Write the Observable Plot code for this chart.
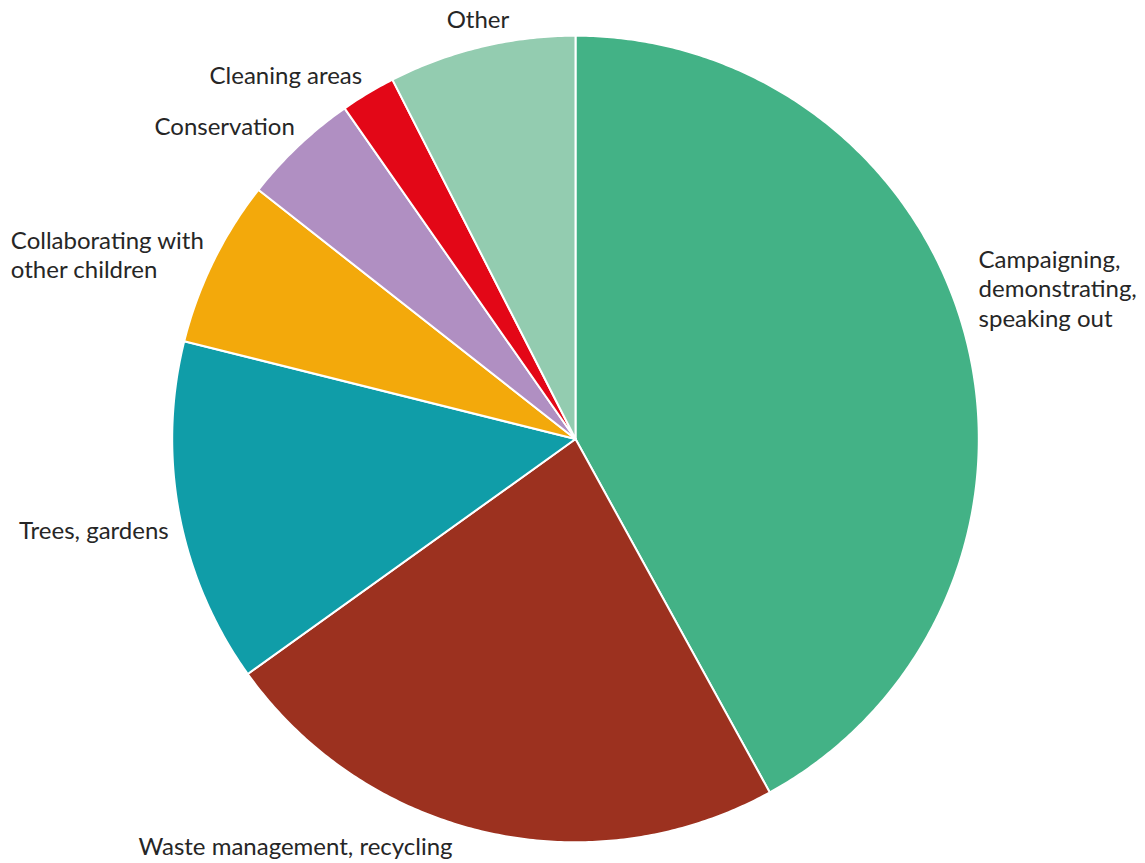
<!DOCTYPE html>
<html><head><meta charset="utf-8">
<script src="https://cdn.jsdelivr.net/npm/d3@7"></script>
<script src="https://cdn.jsdelivr.net/npm/@observablehq/plot@0.6"></script>
<style>
html,body{margin:0;padding:0;background:#fff;}
#chart svg{display:block;}
</style>
</head><body><div id="chart"></div>
<script>
// ---- data ----
const categories = [
  "Campaigning,\ndemonstrating,\nspeaking out",
  "Waste management, recycling",
  "Trees, gardens",
  "Collaborating with\nother children",
  "Conservation",
  "Cleaning areas",
  "Other"
];
const shares = [42.0, 23.1, 13.8, 6.7, 4.7, 2.2, 7.5];
const colors = ["#43b286", "#9c311f", "#109da8", "#f3a90b", "#b08fc2", "#e30717", "#93ccb0"];

// ---- label layout (anchor + pixel nudge from the slice's mid-angle point) ----
const labelAnchor = ["start", "end", "end", "start", "end", "end", "middle"];
const labelNudge = [[0.7, -47.5], [-31, 1.8], [1.3, 13.0], [-191.6, -2.0], [4.6, -11.0], [0.4, -8.3], [-0.6, -16.3]];

// ---- geometry ----
const W = 1145, H = 863;
const cx = 575, cy = 438.5, R = 403.3; // pixel layout of the pie
const labelR = 1.03;

const pie = d3.pie().sort(null).value(d => d.share)(categories.map((c, i) => ({cat: c, share: shares[i], i})));

const slicePts = [];
for (const s of pie) {
  const n = Math.max(2, Math.ceil((s.endAngle - s.startAngle) / (Math.PI / 360)));
  slicePts.push({cat: s.data.cat, x: 0, y: 0});
  for (let k = 0; k <= n; k++) {
    const a = s.startAngle + (s.endAngle - s.startAngle) * k / n;
    slicePts.push({cat: s.data.cat, x: Math.sin(a), y: Math.cos(a)});
  }
  slicePts.push({cat: s.data.cat, x: 0, y: 0});
}

const labels = pie.map(s => {
  const a = (s.startAngle + s.endAngle) / 2;
  const i = s.data.i;
  return {
    text: s.data.cat,
    anchor: labelAnchor[i],
    x: labelR * Math.sin(a) + labelNudge[i][0] / R,
    y: labelR * Math.cos(a) - labelNudge[i][1] / R
  };
});

const textOpts = {fontSize: 24, lineHeight: 1.21, fill: "#262626", fontFamily: "Lato"};

const chart = Plot.plot({
  width: W, height: H,
  margin: 0,
  style: {fontFamily: "Lato", background: "#fff", overflow: "visible"},
  x: {domain: [-1, 1], range: [cx - R, cx + R], axis: null},
  y: {domain: [-1, 1], range: [cy + R, cy - R], axis: null},
  color: {domain: categories, range: colors, legend: false},
  marks: [
    Plot.line(slicePts, {x: "x", y: "y", z: "cat", fill: "cat", stroke: "#fff", strokeWidth: 2, strokeLinejoin: "round", curve: "linear"}),
    ...["start", "end", "middle"].map(anc =>
      Plot.text(labels.filter(d => d.anchor === anc), {x: "x", y: "y", text: "text", textAnchor: anc, ...textOpts})
    )
  ]
});
document.getElementById("chart").appendChild(chart);
</script>
</body></html>
